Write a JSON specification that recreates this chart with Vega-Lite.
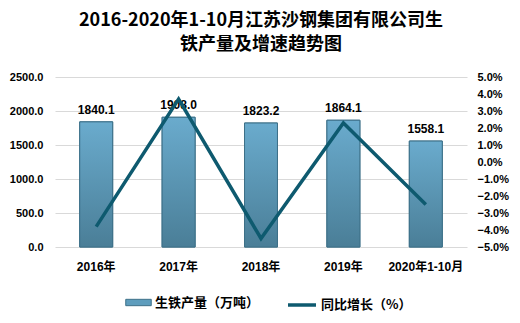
{
  "$schema": "https://vega.github.io/schema/vega-lite/v6.json",
  "width": 412,
  "height": 170,
  "autosize": {"type": "none"},
  "padding": {"left": 55, "top": 77, "right": 53, "bottom": 76},
  "background": "white",
  "title": {
    "text": ["2016-2020年1-10月江苏沙钢集团有限公司生", "铁产量及增速趋势图"],
    "font": "Noto Sans CJK SC",
    "fontSize": 18,
    "fontWeight": "bold",
    "lineHeight": 24,
    "anchor": "middle",
    "color": "#000000",
    "offset": 17
  },
  "config": {
    "view": {"stroke": null},
    "axis": {
      "labelFont": "Liberation Sans, Noto Sans CJK SC",
      "labelFontSize": 11,
      "labelFontWeight": "bold",
      "labelColor": "#000000",
      "labelOverlap": false,
      "ticks": false,
      "domain": false,
      "title": null
    },
    "legend": {
      "labelFont": "Noto Sans CJK SC",
      "labelFontSize": 13,
      "labelFontWeight": "bold",
      "labelColor": "#000000"
    }
  },
  "data": {
    "values": [
      {"year": "2016年", "output": 1840.1, "growth": -3.8},
      {"year": "2017年", "output": 1908.0, "growth": 3.7},
      {"year": "2018年", "output": 1823.2, "growth": -4.5},
      {"year": "2019年", "output": 1864.1, "growth": 2.3},
      {"year": "2020年1-10月", "output": 1558.1, "growth": -2.5}
    ]
  },
  "encoding": {
    "x": {
      "field": "year",
      "type": "nominal",
      "sort": null,
      "scale": {"paddingInner": 0.6, "paddingOuter": 0.3},
      "axis": {"labelAngle": 0, "labelPadding": 14, "labelFontSize": 12, "grid": false}
    }
  },
  "layer": [
    {
      "encoding": {
        "y": {
          "field": "output",
          "type": "quantitative",
          "scale": {"domain": [0, 2500], "nice": false},
          "axis": {
            "values": [0, 500, 1000, 1500, 2000, 2500],
            "tickCount": 6,
            "format": ".1f",
            "grid": true,
            "gridColor": "#D9D9D9",
            "labelPadding": 12
          }
        }
      },
      "layer": [
        {
          "mark": {"type": "bar", "strokeWidth": 1, "stroke": "#3D7088"},
          "encoding": {
            "fill": {
              "datum": "生铁产量（万吨）",
              "type": "nominal",
              "scale": {"range": ["#5E9DBD"]},
              "legend": {
                "orient": "none",
                "legendX": 70,
                "legendY": 212,
                "title": null,
                "symbolType": "M-1,-0.25H1V0.25H-1Z",
                "symbolSize": 650,
                "symbolStrokeColor": "#3D7088",
                "symbolStrokeWidth": 1,
                "labelOffset": 3
              }
            }
          }
        },
        {
          "mark": {
            "type": "bar",
            "strokeWidth": 1,
            "stroke": "#3D7088",
            "fill": {
              "gradient": "linear",
              "x1": 0, "y1": 0, "x2": 0, "y2": 1,
              "stops": [
                {"offset": 0, "color": "#6AABCD"},
                {"offset": 1, "color": "#4A7E97"}
              ]
            }
          }
        },
        {
          "mark": {
            "type": "text",
            "dy": -12,
            "font": "Liberation Sans",
            "fontSize": 12,
            "fontWeight": "bold",
            "color": "#000000"
          },
          "encoding": {
            "text": {"field": "output", "type": "quantitative", "format": ".1f"}
          }
        }
      ]
    },
    {
      "mark": {"type": "line", "strokeWidth": 3.5},
      "encoding": {
        "y": {
          "field": "growth",
          "type": "quantitative",
          "scale": {"domain": [-5, 5]},
          "axis": {
            "orient": "right",
            "values": [-5, -4, -3, -2, -1, 0, 1, 2, 3, 4, 5],
            "labelExpr": "format(datum.value, '.1f') + '%'",
            "grid": false,
            "labelPadding": 10
          }
        },
        "stroke": {
          "datum": "同比增长（%）",
          "type": "nominal",
          "scale": {"range": ["#0E5A6F"]},
          "legend": {
            "orient": "none",
            "legendX": 231,
            "legendY": 212,
            "title": null,
            "symbolType": "stroke",
            "symbolSize": 784,
            "symbolStrokeWidth": 3.5,
            "labelOffset": 3
          }
        }
      }
    }
  ],
  "resolve": {"scale": {"y": "independent"}}
}
